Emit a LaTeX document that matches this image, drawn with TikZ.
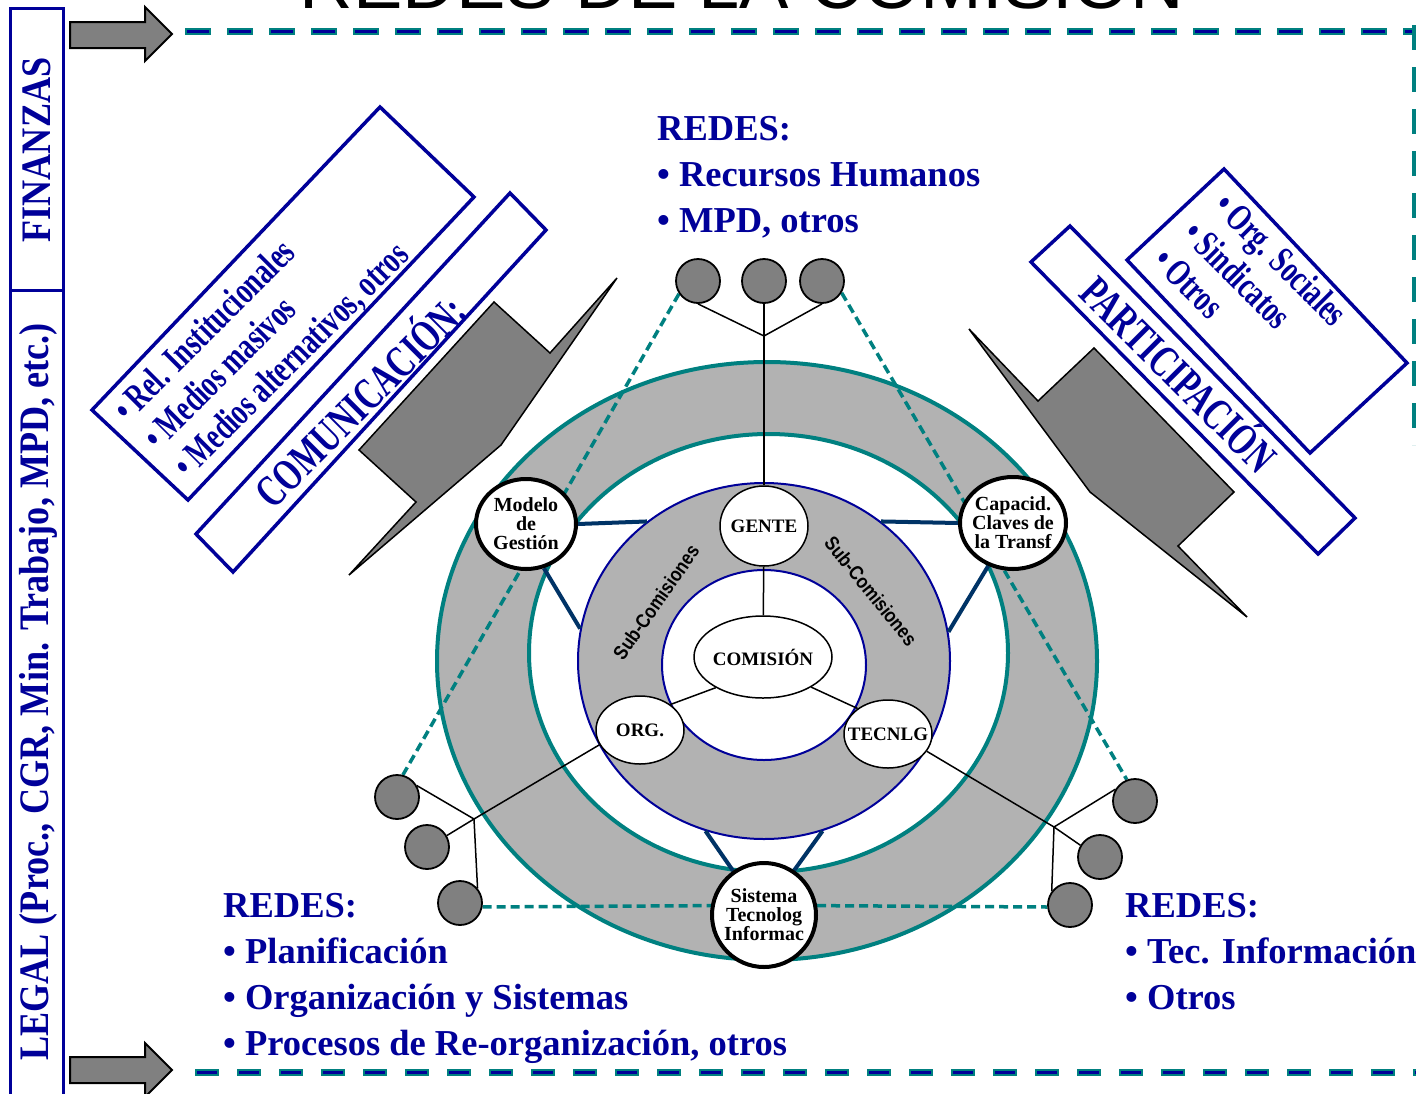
\documentclass[tikz,border=0pt]{standalone}
\usepackage{fontspec}
\setmainfont{Liberation Serif}
\setsansfont{Liberation Sans}
\newfontfamily\condfont[FakeStretch=0.86]{Liberation Serif}
\newfontfamily\narrowfont[FakeStretch=0.71]{Liberation Serif}
\newfontfamily\subfont[FakeStretch=0.85]{Liberation Sans}
\usetikzlibrary{shapes.geometric}
\definecolor{navy}{RGB}{0,0,153}
\definecolor{tealc}{RGB}{0,128,128}
\definecolor{ringgray}{RGB}{178,178,178}
\definecolor{midgray}{RGB}{128,128,128}
\definecolor{steel}{RGB}{0,51,102}
\pgfdeclarelayer{back}
\pgfdeclarelayer{mid}
\pgfsetlayers{back,mid,main}
\newcommand{\myfs}[1]{\fontsize{#1}{#1}\selectfont}
\begin{document}
\begin{tikzpicture}[x=1pt,y=-1pt,
  bluebox/.style={draw=navy, line width=3.5pt, fill=white, line join=miter},
  grayshape/.style={draw=black, line width=1.5pt, fill=midgray, line join=miter},
  blockarrow/.style={draw=black, line width=2pt, fill=midgray, line join=miter},
  rede/.style={anchor=base west, inner sep=0pt, text=navy, font=\bfseries\myfs{36.5}},
  rottext/.style={anchor=base west, inner sep=0pt, text=navy, font=\narrowfont\bfseries\myfs{38}},
  bigrot/.style={inner sep=0pt, text=navy, font=\narrowfont\bfseries\myfs{45}},
  sidetext/.style={inner sep=0pt, text=navy, font=\condfont\bfseries\myfs{42}, rotate=90},
  ringline/.style={draw=steel, line width=4pt},
  blk/.style={draw=black, line width=1.5pt},
  tdash/.style={draw=tealc, line width=3.5pt, dash pattern=on 9pt off 5pt},
  bub/.style={ellipse, draw=black, fill=white, inner sep=0pt, line width=1.5pt},
  thickbub/.style={bub, line width=4pt},
  lab/.style={font=\bfseries\myfs{19}, align=center, inner sep=0pt},
  lab2/.style={font=\bfseries\fontsize{20}{19}\selectfont, align=center, inner sep=0pt},
  smallc/.style={ellipse, draw=black, fill=midgray, line width=1.8pt, minimum width=44pt, minimum height=44pt, inner sep=0pt},
  subc/.style={font=\subfont\bfseries\myfs{20}, inner sep=0pt},
  ringnode/.style={ellipse, inner sep=0pt}
]
\begin{pgfonlayer}{back}
\fill[white] (0,0) rectangle (1416,1093);
\end{pgfonlayer}
\useasboundingbox (0,0) rectangle (1416,1093);

% title (cut by the top edge)
\node[anchor=base, inner sep=0pt, font=\sffamily\myfs{74}] (title) at (742,8) {REDES DE LA COMISIÓN};

% left frame
\draw[navy, line width=3pt] (10,8) rectangle (63,1100);
\draw[navy, line width=3pt] (10,290) -- (63,290);
\node[sidetext] (fin) at (37,150) {FINANZAS};
\node[sidetext] (legal) at (38,692) {LEGAL (Proc., CGR, Min. Trabajo, MPD, etc.)};

% block arrows
\draw[blockarrow] (70,22) -- (145,22) -- (145,7) -- (172,34) -- (145,61) -- (145,48) -- (70,48) -- cycle;
\draw[blockarrow] (70,1057) -- (145,1057) -- (145,1043) -- (172,1070) -- (145,1097) -- (145,1083) -- (70,1083) -- cycle;

% dashed border lines
\draw[tealc, line width=7pt, dash pattern=on 26pt off 16pt] (185,31) -- (1416,31);
\draw[navy, line width=3pt, dash pattern=on 22pt off 20pt] (187,31) -- (1416,31);
\draw[tealc, line width=7pt, dash pattern=on 24pt off 18pt] (195,1072) -- (1416,1072);
\draw[navy, line width=3pt, dash pattern=on 20pt off 22pt] (197,1072) -- (1416,1072);
\draw[tealc, line width=6pt, dash pattern=on 25pt off 17pt] (1415,25) -- (1415,445);

% rotated boxes
\draw[bluebox] (380,107) -- (474,197) -- (188,500) -- (92,410) -- cycle;
\draw[bluebox] (510,193) -- (546,230) -- (233,572) -- (196,534) -- cycle;
\draw[bluebox] (1070,226) -- (1355,518) -- (1318,554) -- (1031,262) -- cycle;
\draw[bluebox] (1224,169) -- (1407,363) -- (1310,453) -- (1127,260) -- cycle;

\node[rottext, rotate=45] (c1) at (128,424) {• Rel. Institucionales};
\node[rottext, rotate=45] (c2) at (158,452) {• Medios masivos};
\node[rottext, rotate=45] (c3) at (188,480) {• Medios alternativos, otros};
\node[bigrot, rotate=45] (com) at (358,399) {COMUNICACIÓN:};
\node[bigrot, rotate=-45] (par) at (1181,372) {PARTICIPACIÓN};
\node[rottext, rotate=-45] (p1) at (1212,208) {• Org. Sociales};
\node[rottext, rotate=-45] (p2) at (1181,236) {• Sindicatos};
\node[rottext, rotate=-45] (p3) at (1151,263) {• Otros};

% gray zig-zag shapes
\draw[grayshape] (617,278) -- (550,353) -- (494,302) -- (359,450) -- (416,502) -- (349,575) -- (501,445) -- cycle;
\draw[grayshape] (969,329) -- (1038,401) -- (1094,348) -- (1234,492) -- (1178,546) -- (1247,617) -- (1090,492) -- cycle;

% REDES texts
\node[rede] (r1) at (657,140) {REDES:};
\node[rede] (r2) at (657,186) {• Recursos Humanos};
\node[rede] (r3) at (657,232) {• MPD, otros};
\node[rede] (l1) at (223,917) {REDES:};
\node[rede] (l2) at (223,963) {• Planificación};
\node[rede] (l3) at (223,1009) {• Organización y Sistemas};
\node[rede] (l4) at (223,1055) {• Procesos de Re-organización, otros};
\node[rede] (q1) at (1125,917) {REDES:};
\node[rede] (q2) at (1125,963) {• Tec. Información};
\node[rede] (q3) at (1125,1009) {• Otros};

% rings
\begin{pgfonlayer}{back}
\node[ringnode, draw=tealc, fill=ringgray, line width=4pt, minimum width=660pt, minimum height=598pt] (outer) at (767,661) {};
\node[ringnode, draw=tealc, fill=white, line width=4pt, minimum width=479pt, minimum height=438pt] (wring) at (768.5,653) {};
\node[ringnode, draw=navy, fill=ringgray, line width=2pt, minimum width=372pt, minimum height=356pt] (sub) at (764,661) {};
\node[ringnode, draw=navy, fill=white, line width=2pt, minimum width=204pt, minimum height=190pt] (core) at (764,665) {};
\end{pgfonlayer}

\node[subc, rotate=55] (sc1) at (656,602) {Sub-Comisiones};
\node[subc, rotate=-51] (sc2) at (871,591) {Sub-Comisiones};

% central nodes
\node[bub, minimum width=88pt, minimum height=80pt, label={[lab]center:GENTE}] (gente) at (764,526) {};
\node[bub, minimum width=138pt, minimum height=82pt, label={[lab]center:COMISIÓN}] (comision) at (763,657) {};
\node[bub, minimum width=88pt, minimum height=68pt, label={[lab]center:ORG.}] (org) at (640,730) {};
\node[bub, minimum width=88pt, minimum height=68pt, label={[lab]center:TECNLG}] (tec) at (888,734) {};
\node[thickbub, minimum width=100pt, minimum height=90pt, label={[lab2]center:Modelo\\de\\Gestión}] (modelo) at (526,524) {};
\node[thickbub, minimum width=106pt, minimum height=92pt, label={[lab2]center:Capacid.\\Claves de\\la Transf}] (capacid) at (1013,523) {};
\node[thickbub, minimum width=104pt, minimum height=104pt, label={[lab2]center:Sistema\\Tecnolog\\Informac}] (sistema) at (764,915) {};

% small network circles
\node[smallc] (t1) at (698,281) {};
\node[smallc] (t2) at (764,281) {};
\node[smallc] (t3) at (822,281) {};
\node[smallc] (a) at (397,797) {};
\node[smallc] (b) at (427,847) {};
\node[smallc] (c) at (460,903) {};
\node[smallc] (d) at (1135,801) {};
\node[smallc] (e) at (1100,857) {};
\node[smallc] (f) at (1070,905) {};
\coordinate (jtop) at (764,336);
\coordinate (jl) at (474,819);
\coordinate (jr) at (1054,827);

\begin{pgfonlayer}{mid}
\draw[tdash] (t1.214) -- (a.75);
\draw[tdash] (t3.329) -- (d.111);
\draw[tdash] (c.350) -- (sistema.170);
\draw[tdash] (sistema.10) -- (f.185);

\draw[ringline] (modelo.east) -- (sub.130);
\draw[ringline] (modelo.292) -- (sub.170);
\draw[ringline] (capacid.west) -- (sub.50);
\draw[ringline] (capacid.240) -- (sub.9);
\draw[ringline] (sub.251) -- (sistema.125);
\draw[ringline] (sub.289) -- (sistema.56);

\draw[blk] (gente) -- (comision);
\draw[blk] (comision.213) -- (org.40);
\draw[blk] (comision.328) -- (tec.140);
\draw[blk] (gente.north) -- (jtop);
\draw[blk] (jtop) -- (t1.south);
\draw[blk] (jtop) -- (t2.south);
\draw[blk] (jtop) -- (t3.south);
\draw[blk] (org.200) -- (jl);
\draw[blk] (jl) -- (a.30);
\draw[blk] (jl) -- (b.30);
\draw[blk] (jl) -- (c.40);
\draw[blk] (tec.336) -- (jr);
\draw[blk] (jr) -- (d.149);
\draw[blk] (jr) -- (e.149);
\draw[blk] (jr) -- (f.143);
\end{pgfonlayer}
\end{tikzpicture}
\end{document}
